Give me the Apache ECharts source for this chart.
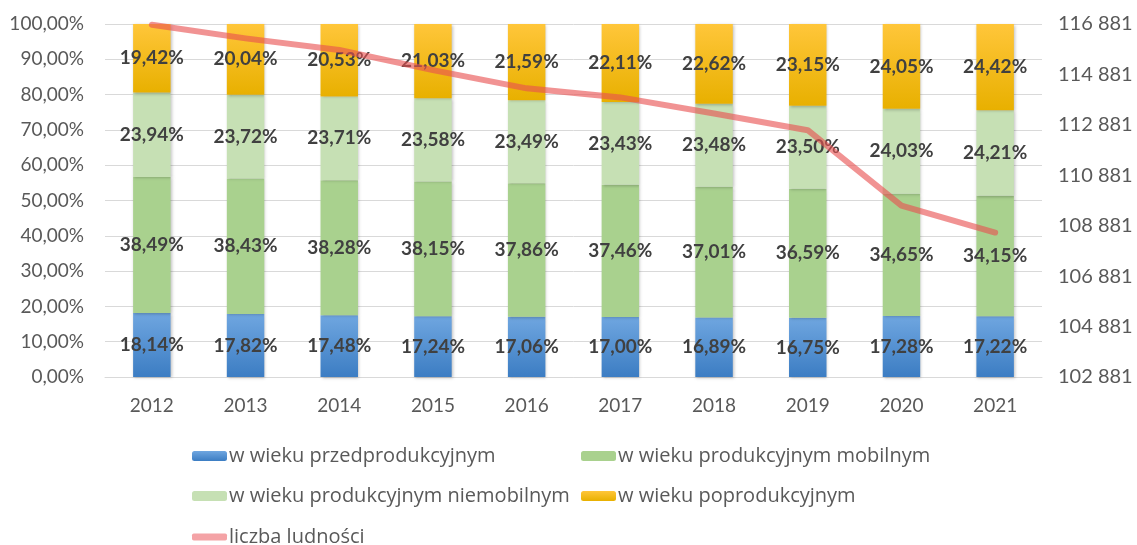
<!DOCTYPE html>
<html>
<head>
<meta charset="utf-8">
<script src="https://cdn.jsdelivr.net/npm/echarts@6/dist/echarts.min.js"></script>
<style>
html,body{margin:0;padding:0;background:#fff;}
#chart{width:1137px;height:545px;}
</style>
</head>
<body>
<div id="chart"></div>
<script>
const years = ['2012','2013','2014','2015','2016','2017','2018','2019','2020','2021'];
const przedprodukcyjny = [18.14, 17.82, 17.48, 17.24, 17.06, 17.00, 16.89, 16.75, 17.28, 17.22];
const mobilny = [38.49, 38.43, 38.28, 38.15, 37.86, 37.46, 37.01, 36.59, 34.65, 34.15];
const niemobilny = [23.94, 23.72, 23.71, 23.58, 23.49, 23.43, 23.48, 23.50, 24.03, 24.21];
const poprodukcyjny = [19.42, 20.04, 20.53, 21.03, 21.59, 22.11, 22.62, 23.15, 24.05, 24.42];
const ludnosc = [116850, 116310, 115850, 115050, 114330, 113970, 113330, 112670, 109680, 108610];

const names = ['w wieku przedprodukcyjnym','w wieku produkcyjnym mobilnym','w wieku produkcyjnym niemobilnym','w wieku poprodukcyjnym','liczba ludności'];
const FONT = 'Lato, "Open Sans", sans-serif';
const FONT2 = '"Open Sans", Lato, sans-serif';

function grad(top, bottom){
  return new echarts.graphic.LinearGradient(0,0,0,1,[{offset:0,color:top},{offset:1,color:bottom}]);
}
const fmtPct = v => v.toFixed(2).replace('.', ',') + '%';

function barSeries(name, data, color){
  return {
    name, type:'bar', stack:'s', data, barWidth:'40%',
    itemStyle:{color, shadowColor:'rgba(0,0,0,0.25)', shadowBlur:3, shadowOffsetX:1, shadowOffsetY:1},
    label:{show:true, position:'inside', formatter:p=>fmtPct(p.value), color:'#404040', fontWeight:'bold', fontSize:19, fontFamily:FONT},
    emphasis:{disabled:true}
  };
}

const chart = echarts.init(document.getElementById('chart'));
const legendBase = {itemWidth:35, itemHeight:10, itemGap:0, textStyle:{fontSize:20, color:'#595959', fontFamily:FONT2, padding:[0,0,0,-3]}, selectedMode:false};
chart.setOption({
  animation:false,
  textStyle:{fontFamily:FONT},
  grid:{left:105, right:95, top:24, bottom:168, containLabel:false},
  legend:[
    Object.assign({}, legendBase, {data:[names[0]], left:187, top:441}),
    Object.assign({}, legendBase, {data:[names[1]], left:576, top:441}),
    Object.assign({}, legendBase, {data:[names[2]], left:187, top:481}),
    Object.assign({}, legendBase, {data:[names[3]], left:576, top:481}),
    Object.assign({}, legendBase, {data:[{name:names[4], icon:'roundRect'}], left:187, top:522, itemHeight:7})
  ],
  xAxis:{
    type:'category', data:years,
    axisLine:{lineStyle:{color:'#d9d9d9', width:1}},
    axisTick:{show:false},
    axisLabel:{color:'#595959', fontSize:19, margin:19, fontFamily:FONT}
  },
  yAxis:[
    {type:'value', min:0, max:100, interval:10,
     axisLabel:{formatter:v=>v.toFixed(2).replace('.', ',')+'%', color:'#595959', fontSize:19, margin:21, fontFamily:FONT},
     splitLine:{lineStyle:{color:'#d9d9d9'}}, axisLine:{show:false}, axisTick:{show:false}},
    {type:'value', min:102881, max:116881, interval:2000,
     axisLabel:{formatter:v=>String(Math.round(v)).replace(/\B(?=(\d{3})+(?!\d))/g,' '), color:'#595959', fontSize:20, margin:16, fontFamily:FONT},
     splitLine:{show:false}, axisLine:{show:false}, axisTick:{show:false}}
  ],
  series:[
    barSeries(names[0], przedprodukcyjny, grad('#6fa6e0','#3c7dc3')),
    barSeries(names[1], mobilny, '#a9d18e'),
    barSeries(names[2], niemobilny, '#c6e0b4'),
    barSeries(names[3], poprodukcyjny, grad('#ffc63a','#e8b000')),
    {name:names[4], type:'line', yAxisIndex:1, data:ludnosc, showSymbol:false, symbol:'none',
     lineStyle:{color:'rgba(232,80,80,0.62)', width:6, cap:'round', join:'round'},
     itemStyle:{color:'#f4a3a6'}, z:10, emphasis:{disabled:true}}
  ]
});
</script>
</body>
</html>
